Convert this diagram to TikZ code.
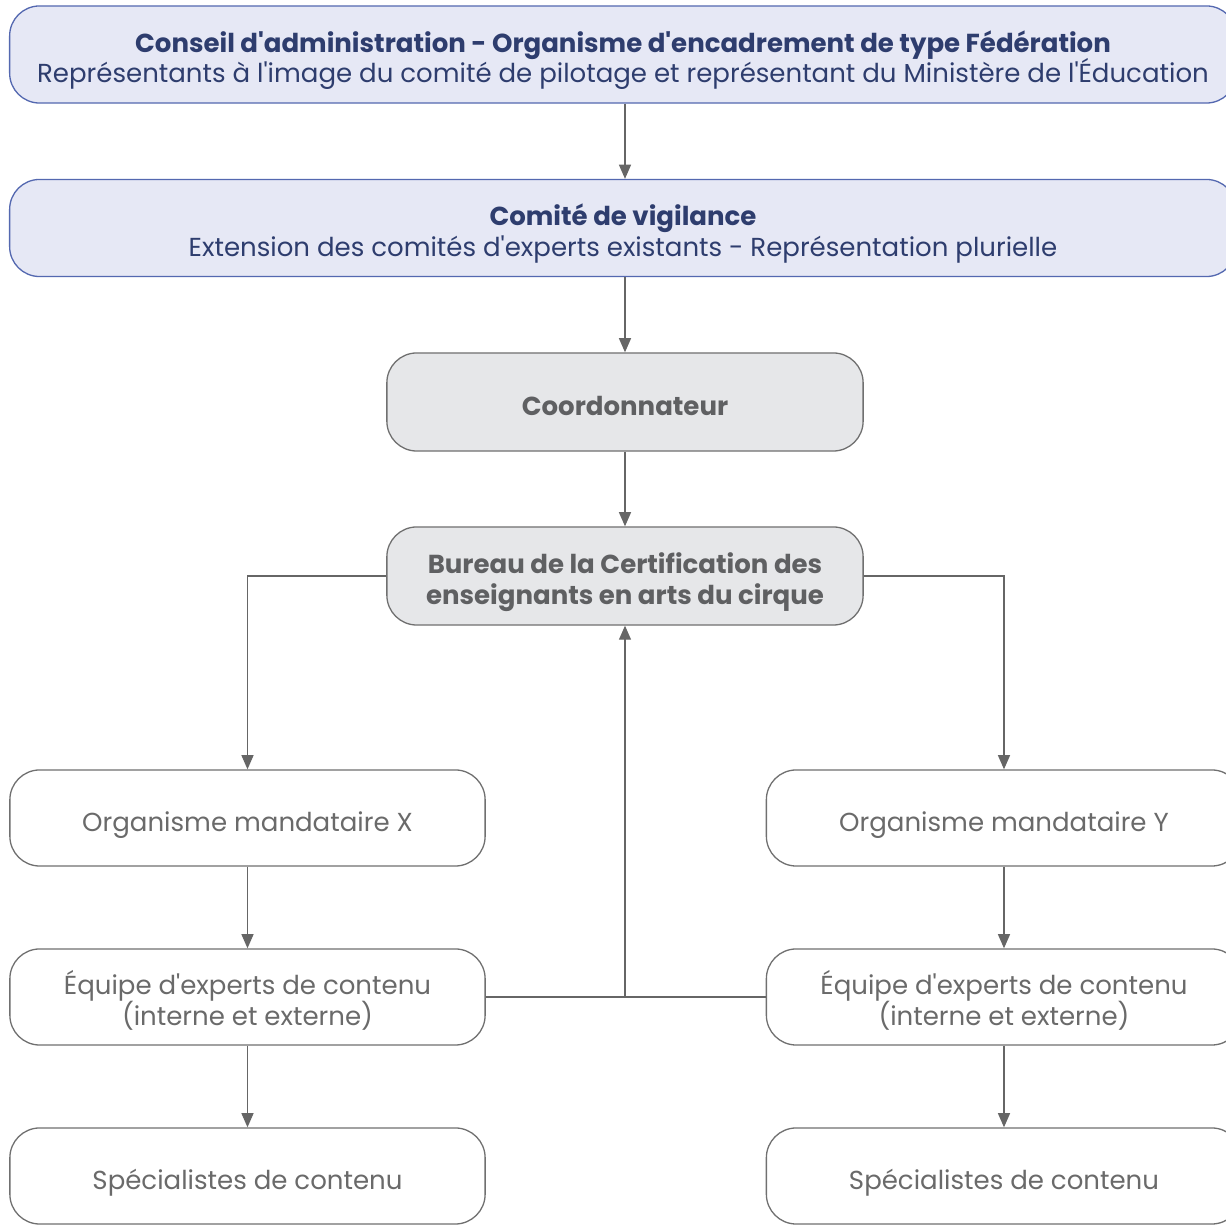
\documentclass[tikz,border=0pt]{standalone}
\usepackage{fontspec}
\setmainfont{Poppins}[Ligatures=TeXOff]
\usetikzlibrary{arrows.meta}
\definecolor{bluefill}{HTML}{E6E8F5}
\definecolor{blueline}{HTML}{5468B0}
\definecolor{bluetext}{HTML}{2E3D6E}
\definecolor{grayfill}{HTML}{E6E7E9}
\definecolor{grayline}{HTML}{707070}
\definecolor{graytext}{HTML}{5F6062}
\definecolor{lighttext}{HTML}{6A6A6A}
\definecolor{arrowc}{HTML}{666666}
\newcommand\bxfont{\fontsize{7.4}{8.8}\selectfont\lineskiplimit-20pt\lineskip0pt\relax}
\begin{document}
\begin{tikzpicture}[x=0.01cm,y=-0.01cm,
 box/.style={rectangle, rounded corners=8.5pt, line width=0.37pt, align=center, inner sep=0pt, font=\bxfont},
 oneline/.style={text height=7.4pt, text depth=0pt},
 twoline/.style={text height=16.2pt, text depth=0pt},
 bluebox/.style={box, draw=blueline, fill=bluefill, text=bluetext, minimum width=12.26cm, minimum height=0.97cm},
 graybox/.style={box, draw=grayline, fill=grayfill, text=graytext, font=\bxfont\bfseries, minimum width=4.76cm, minimum height=0.98cm},
 whitebox/.style={box, draw=grayline, fill=white, text=lighttext, minimum width=4.75cm, minimum height=0.96cm},
 conn/.style={draw=arrowc, line width=0.37pt},
 arr/.style={conn, -{Triangle[length=4pt,width=3.4pt]}}]
\clip (0,0) rectangle (1226,1225);
\fill[white] (0,0) rectangle (1226,1225);

\node[bluebox, twoline] (ca) at (623,54.5) {\textbf{Conseil d'administration - Organisme d'encadrement de type Fédération}\\Représentants à l'image du comité de pilotage et représentant du Ministère de l'Éducation};
\node[bluebox, twoline] (cv) at (623,228) {\textbf{Comité de vigilance}\\Extension des comités d'experts existants - Représentation plurielle};
\node[graybox, oneline] (coord) at (625,402) {Coordonnateur};
\node[graybox, twoline] (bureau) at (625,576) {Bureau de la Certification des\\enseignants en arts du cirque};

\node[whitebox, oneline] (orgx) at (247.5,818) {Organisme mandataire X};
\node[whitebox, twoline] (eqx) at (247.5,997) {Équipe d'experts de contenu\\(interne et externe)};
\node[whitebox, oneline] (spx) at (247.5,1176) {Spécialistes de contenu};

\node[whitebox, oneline] (orgy) at (1004,818) {Organisme mandataire Y};
\node[whitebox, twoline] (eqy) at (1004,997) {Équipe d'experts de contenu\\(interne et externe)};
\node[whitebox, oneline] (spy) at (1004,1176) {Spécialistes de contenu};

\draw[arr] (ca.south -| coord.north) -- (cv.north -| coord.north);
\draw[arr] (cv.south -| coord.north) -- (coord.north);
\draw[arr] (coord) -- (bureau);
\draw[arr] (bureau.west) -| (orgx.north);
\draw[arr] (bureau.east) -| (orgy.north);
\draw[arr] (orgx) -- (eqx);
\draw[arr] (eqx) -- (spx);
\draw[arr] (orgy) -- (eqy);
\draw[arr] (eqy) -- (spy);
\draw[conn] (eqx.east) -- (eqy.west);
\coordinate (mid) at (bureau.south |- eqx.east);
\draw[arr] (mid) -- (bureau.south);
\end{tikzpicture}
\end{document}
